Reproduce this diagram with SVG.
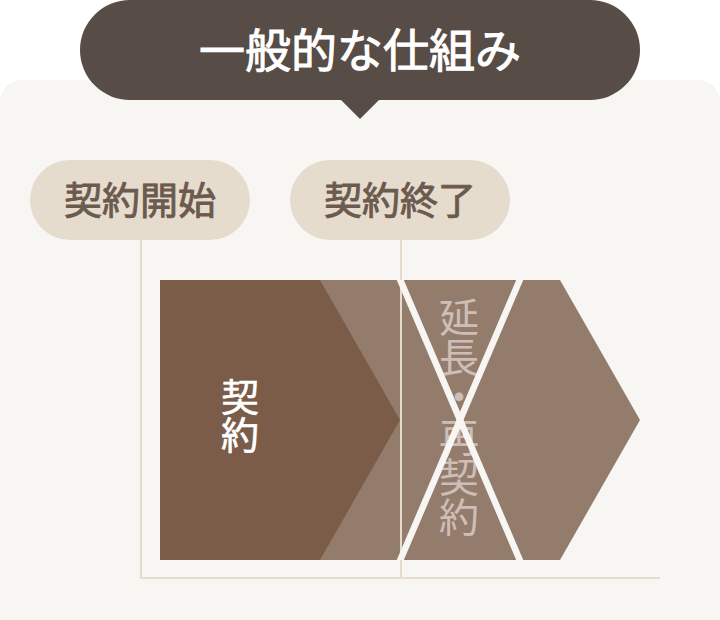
<svg xmlns="http://www.w3.org/2000/svg" width="720" height="620" viewBox="0 0 720 620">
<defs>
<style>
.jp{font-family:"Noto Sans CJK JP","Noto Sans CJK SC",sans-serif;}
.pill{fill:#e6dccd;}
.lbl{fill:#6b5a4e;stroke:#6b5a4e;stroke-width:0.9;font-size:38px;text-anchor:middle;}
.guide{stroke:#e6dccd;stroke-width:2;fill:none;}
.cross{stroke:#f8f6f2;stroke-width:6.5;}
.vt{fill:#cdbfb8;font-size:40px;}
.wt{fill:#ffffff;stroke:#ffffff;stroke-width:0.6;font-size:38px;}
</style>
<clipPath id="band"><rect x="380" y="280" width="160" height="280"/></clipPath>
</defs>
<rect width="720" height="620" fill="#ffffff"/>
<rect id="panel" x="0" y="80" width="720" height="560" rx="22" fill="#f8f6f2"/>
<g id="title">
<rect x="80" y="0" width="560" height="100" rx="50" fill="#574c46"/>
<polygon points="340,99 380,99 360,119" fill="#574c46"/>
<text class="jp" x="360" y="67" fill="#ffffff" stroke="#ffffff" stroke-width="1" font-size="46" text-anchor="middle">一般的な仕組み</text>
</g>
<g id="label-start">
<rect class="pill" x="30" y="160" width="220" height="80" rx="40"/>
<text class="jp lbl" x="140" y="214">契約開始</text>
</g>
<g id="label-end">
<rect class="pill" x="290" y="160" width="220" height="80" rx="40"/>
<text class="jp lbl" x="400" y="214">契約終了</text>
</g>
<g id="renewal">
<polygon points="320,280 560,280 640,420 560,560 320,560" fill="#947c6d"/>
</g>
<g id="contract">
<polygon points="160,280 320,280 400,420 320,560 160,560" fill="#7b5c49"/>
<text class="jp wt" x="240" y="378" writing-mode="vertical-rl">契約</text>
</g>
<g id="connectors">
<line class="guide" x1="141" y1="240" x2="141" y2="578"/>
<line class="guide" x1="401" y1="240" x2="401" y2="578"/>
<line class="guide" x1="140" y1="578" x2="660" y2="578"/>
</g>
<g id="renewal-text">
<text class="jp vt" x="459" y="297" writing-mode="vertical-rl">延長・再契約</text>
</g>
<g id="cross" clip-path="url(#band)">
<line class="cross" x1="396" y1="270" x2="524" y2="570"/>
<line class="cross" x1="524" y1="270" x2="396" y2="570"/>
</g>
</svg>
